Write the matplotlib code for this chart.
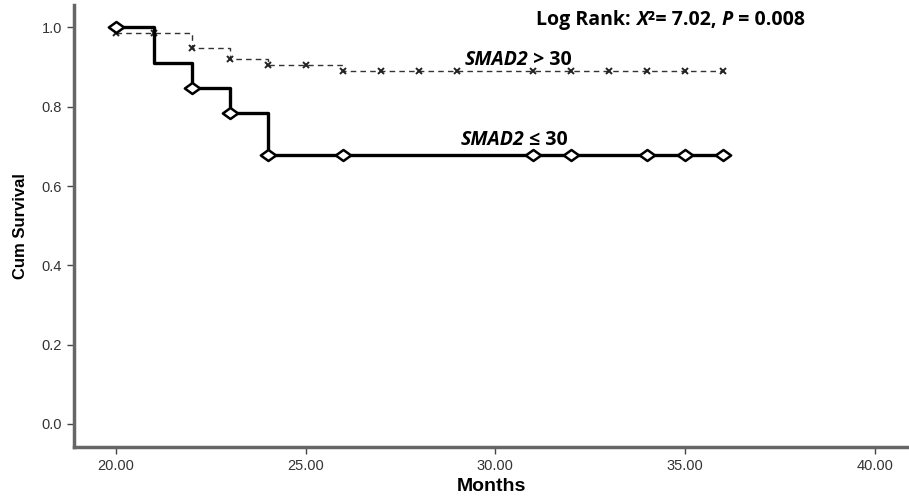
import numpy as np
import matplotlib.pyplot as plt
from matplotlib.path import Path
from matplotlib.transforms import offset_copy

# step points of the two Kaplan-Meier curves
low_times = [20, 21, 22, 23, 24, 36]
low_surv = [1.0, 0.909, 0.848, 0.785, 0.678, 0.678]
low_censor = [20, 22, 23, 24, 26, 31, 32, 34, 35, 36]

high_times = [20, 22, 23, 24, 26, 36]
high_surv = [0.986, 0.948, 0.921, 0.906, 0.889, 0.889]
high_censor = [20, 21, 22, 23, 24, 25, 26, 27, 28, 29, 31, 32, 33, 34, 35, 36]

x_ticks = [20, 25, 30, 35, 40]
y_ticks = [0.0, 0.2, 0.4, 0.6, 0.8, 1.0]


def step_value(times, surv, t):
    i = np.searchsorted(times, t, side='right') - 1
    return np.array(surv)[i]


diamond = Path([(-1, 0), (0, 0.72), (1, 0), (0, -0.72), (-1, 0)],
               [Path.MOVETO, Path.LINETO, Path.LINETO, Path.LINETO, Path.CLOSEPOLY])

fig = plt.figure(figsize=(9.09, 4.97), dpi=100)
ax = fig.add_axes([0.0814, 0.1006, 0.9186, 0.889])

ax.step(high_times, high_surv, where='post', color='#333333', lw=1.0,
        linestyle=(0, (4, 3)), zorder=2)
ax.plot(high_censor, step_value(high_times, high_surv, high_censor), 'x',
        color='#222222', ms=5, mew=1.4, zorder=3)

ax.step(low_times, low_surv, where='post', color='black', lw=2.4, zorder=4)
ax.plot(low_censor, step_value(low_times, low_surv, low_censor), linestyle='none',
        marker=diamond, ms=11, mfc='white', mec='black', mew=1.8, zorder=5)

ax.set_xlim(18.9, 40.9)
ax.set_ylim(-0.058, 1.056)
ax.set_xticks(x_ticks)
ax.set_xticklabels([f"{v:.2f}" for v in x_ticks])
ax.set_yticks(y_ticks)
ax.set_yticklabels([f"{v:.1f}" for v in y_ticks])

for side in ['top', 'right']:
    ax.spines[side].set_visible(False)
for side in ['left', 'bottom']:
    ax.spines[side].set_linewidth(2.5)
    ax.spines[side].set_color('#666666')

ax.tick_params(direction='out', length=5, width=1, color='#444444',
               labelsize=10.5, labelcolor='#333333')
for lab in ax.get_xticklabels() + ax.get_yticklabels():
    lab.set_family('Liberation Sans')

ax.set_xlabel('Months', fontsize=14, fontweight='bold', family='Liberation Sans',
              labelpad=4)
ax.set_ylabel('Cum Survival', fontsize=12, fontweight='bold',
              family='Liberation Sans', labelpad=10)

renderer = fig.canvas.get_renderer()


# annotations with mixed italic / upright pieces on one baseline
def chain(pieces, x, y, size):
    dx = 0.0
    for text, style in pieces:
        tr = offset_copy(ax.transData, fig=fig, x=dx * 72 / fig.dpi, y=0, units='points')
        t = ax.text(x, y, text, transform=tr, fontsize=size, fontweight='bold',
                    fontstyle=style, family='Open Sans', va='baseline', ha='left',
                    color='black')
        dx += t.get_window_extent(renderer).width


chain([('Log Rank: ', 'normal'), ('X', 'italic'), ('²= 7.02, ', 'normal'),
       ('P', 'italic'), (' = 0.008', 'normal')], 31.08, 1.007, 14)
chain([('SMAD2', 'italic'), (' > 30', 'normal')], 29.18, 0.906, 14)
chain([('SMAD2', 'italic'), (' ≤ 30', 'normal')], 29.08, 0.703, 14)

fig.savefig('out.png', dpi=100)
